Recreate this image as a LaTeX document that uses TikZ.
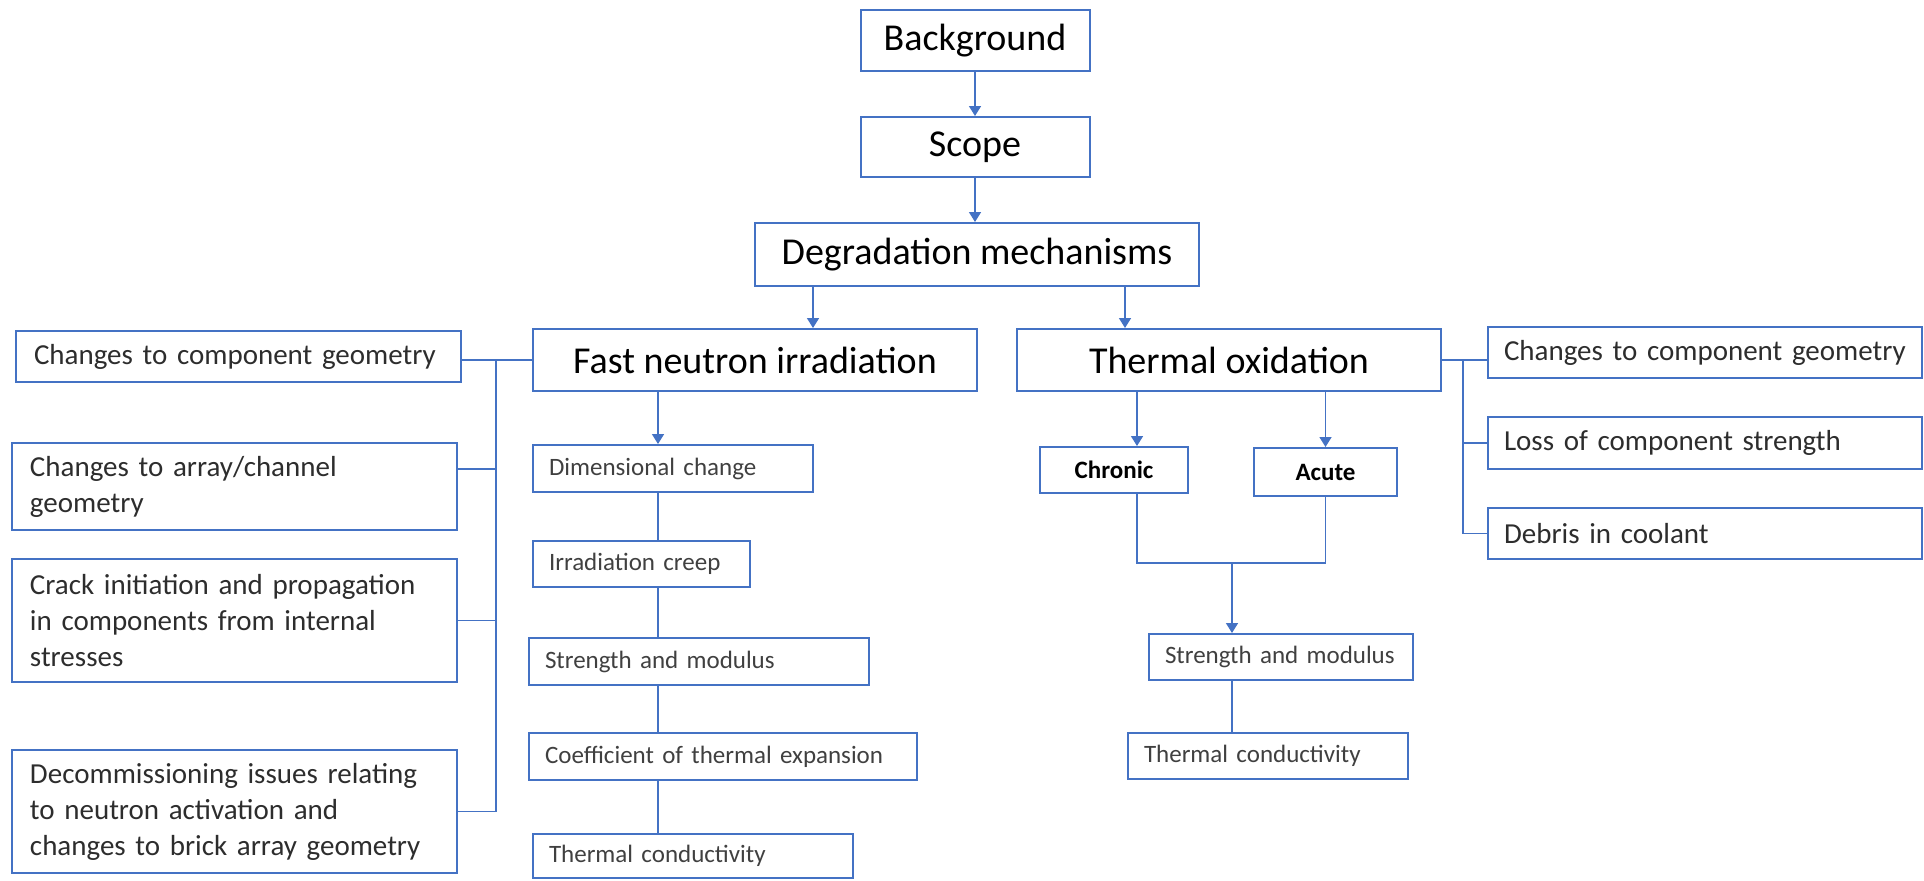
\documentclass[tikz,border=0pt]{standalone}
\usepackage{fontspec}
\setmainfont{Carlito}
\usepackage{tikz}
\usetikzlibrary{arrows.meta}
\definecolor{boxblue}{HTML}{4472C4}
\definecolor{txtgrey}{HTML}{404040}

\tikzset{
	box/.style={draw=boxblue, line width=1pt, inner sep=0pt},
	bigbox/.style={box, font=\fontsize{19}{23}\selectfont},
	sidebox/.style={box, font=\fontsize{14.5}{18}\selectfont, text=txtgrey!70!black, align=left, inner xsep=9pt},
	itembox/.style={box, font=\fontsize{12.5}{15}\selectfont, text=txtgrey, align=left, inner xsep=8pt},
	kindbox/.style={box, font=\fontsize{12.5}{15}\selectfont\bfseries},
	link/.style={draw=boxblue, line width=0.8pt},
	arr/.style={link, -{Triangle[width=6pt,length=5pt]}}
}

\begin{document}
\begin{tikzpicture}[x=0.5pt, y=-0.5pt]
\useasboundingbox (0,0) rectangle (1924,880);

\node[bigbox, minimum width=114.5pt, minimum height=30.5pt] (bg) at (975,40.5) {Background};
\node[bigbox, minimum width=114.5pt, minimum height=30pt] (scope) at (975,147) {Scope};
\node[bigbox, minimum width=222pt, minimum height=31.5pt] (degr) at (977,254.5) {Degradation mechanisms};
\node[bigbox, minimum width=222pt, minimum height=31pt] (fni) at (755,360) {Fast neutron irradiation};
\node[bigbox, minimum width=212pt, minimum height=31pt] (tox) at (1229,360) {Thermal oxidation};

\node[sidebox, text width=204.5pt, minimum height=25.5pt] (lcg) at (238.5,356.5) {Changes to component geometry};
\node[sidebox, text width=204.5pt, minimum height=43.5pt] (lac) at (234.5,486.5) {Changes to array/channel\\geometry};
\node[sidebox, text width=204.5pt, minimum height=61.5pt] (lcr) at (234.5,620.5) {Crack initiation and propagation\\in components from internal\\stresses};
\node[sidebox, text width=204.5pt, minimum height=61.5pt] (ldc) at (234.5,811.5) {Decommissioning issues relating\\to neutron activation and\\changes to brick array geometry};

\node[sidebox, inner xsep=8pt, text width=201pt, minimum height=25.5pt] (rcg) at (1705,352.5) {Changes to component geometry};
\node[sidebox, inner xsep=8pt, text width=201pt, minimum height=26pt] (rls) at (1705,443) {Loss of component strength};
\node[sidebox, inner xsep=8pt, text width=201pt, minimum height=25.5pt] (rdb) at (1705,533.5) {Debris in coolant};

\node[itembox, text width=124pt, minimum height=23.5pt] (dim) at (673,468.5) {Dimensional change};
\node[itembox, text width=92.5pt, minimum height=23pt] (crp) at (641.5,564) {Irradiation creep};
\node[itembox, text width=154pt, minimum height=23.5pt] (smL) at (699,661.5) {Strength and modulus};
\node[itembox, text width=178pt, minimum height=23.5pt] (cte) at (723,756.5) {Coefficient of thermal expansion};
\node[itembox, text width=144pt, minimum height=22pt] (tcL) at (693,856) {Thermal conductivity};

\node[kindbox, minimum width=74pt, minimum height=23pt] (chr) at (1114,470) {Chronic};
\node[kindbox, minimum width=71.5pt, minimum height=24pt] (acu) at (1325.5,472) {Acute};
\node[itembox, text width=116pt, minimum height=23pt] (smR) at (1281,657) {Strength and modulus};
\node[itembox, text width=124pt, minimum height=23pt] (tcR) at (1268,756) {Thermal conductivity};

\coordinate (spine) at (658,0);
\coordinate (busL) at (496,0);
\coordinate (busR) at (1463,0);
\coordinate (merge) at (1232,563);

\draw[arr] (bg.south) -- (bg.south |- scope.north);
\draw[arr] (scope.south) -- (scope.south |- degr.north);
\draw[arr] ([xshift=-82pt]degr.south) -- ([xshift=-82pt]degr.south |- fni.north);
\draw[arr] ([xshift=74pt]degr.south) -- ([xshift=74pt]degr.south |- tox.north);

\draw[link] (fni.west) -- (fni.west -| lcg.east);
\draw[link] (fni.west -| busL) |- (ldc.east);
\draw[link] ([yshift=8.75pt]lac.east) -- ([yshift=8.75pt]lac.east -| busL);
\draw[link] (lcr.east) -- (lcr.east -| busL);

\draw[arr] (fni.south -| spine) -- (dim.north -| spine);
\draw[link] (dim.south -| spine) -- (crp.north -| spine);
\draw[link] (crp.south -| spine) -- (smL.north -| spine);
\draw[link] (smL.south -| spine) -- (cte.north -| spine);
\draw[link] (cte.south -| spine) -- (tcL.north -| spine);

\draw[link] (tox.east) -- (tox.east -| rcg.west);
\draw[link] (tox.east -| busR) |- (rdb.west);
\draw[link] (busR |- rls.west) -- (rls.west);

\draw[arr] ([xshift=11.5pt]chr.north |- tox.south) -- ([xshift=11.5pt]chr.north);
\draw[arr] (acu.north |- tox.south) -- (acu.north);
\draw[link] ([xshift=11.5pt]chr.south) |- (merge) -| (acu.south);
\draw[arr] (merge) -- (merge |- smR.north);
\draw[link] (smR.south -| merge) -- (tcR.north -| merge);
\end{tikzpicture}
\end{document}
